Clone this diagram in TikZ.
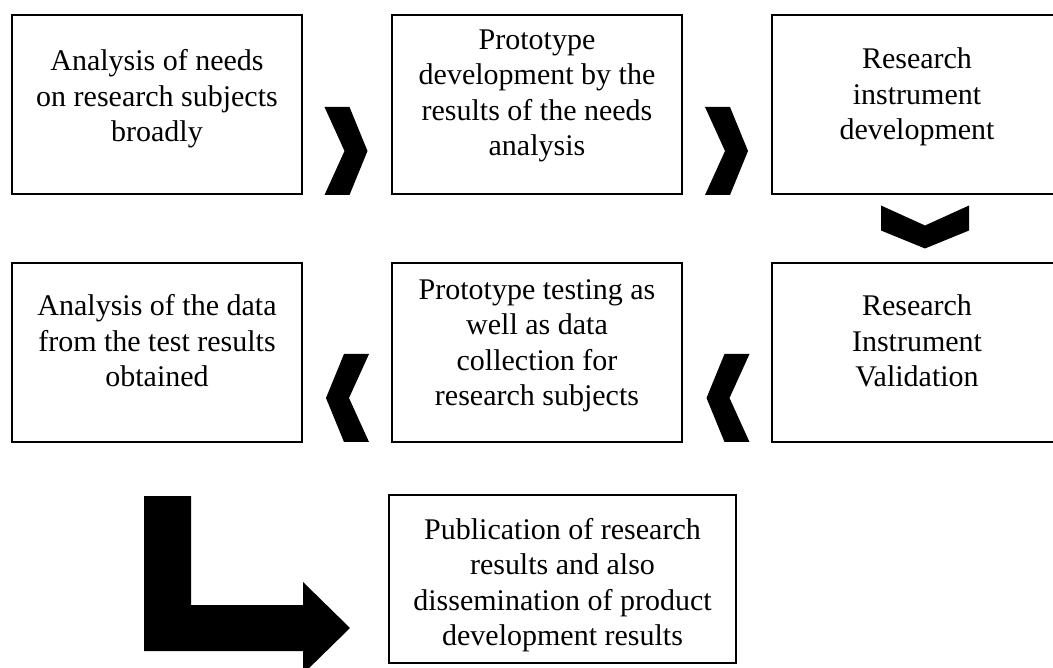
\documentclass[tikz,border=0pt]{standalone}
\usepackage{fontspec}
\setmainfont{Liberation Serif}
\begin{document}
\begin{tikzpicture}[x=1pt,y=-1pt,
box/.style={rectangle,draw=black,line width=2pt,minimum width=290pt,minimum height=179pt},
wide/.style={box,minimum width=347pt,minimum height=168pt},
txt/.style={align=center,inner sep=0pt,font=\fontsize{30}{35.5}\selectfont},
chevron/.pic={\fill[black] (-22,-44) -- (3,-44) -- (21,0) -- (3,44) -- (-22,44) -- (-2,0) -- cycle;}]
\useasboundingbox (0,0) rectangle (1053,668);

% Row 1
\node[box] (needs) at (157,105) {};
\node[txt] at (157,99) {Analysis of needs\\on research subjects\\broadly};
\node[box] (proto) at (537,105) {};
\node[txt] at (537,96) {Prototype\\development by the\\results of the needs\\analysis};
\node[box] (instr) at (917,105) {};
\node[txt] at (917,97) {Research\\instrument\\development};

% Row 2
\node[box] (data) at (157,352.5) {};
\node[txt] at (157,341) {Analysis of the data\\from the test results\\obtained};
\node[box] (test) at (537,352.5) {};
\node[txt] at (537,346) {Prototype testing as\\well as data\\collection for\\research subjects};
\node[box] (valid) at (917,352.5) {};
\node[txt] at (917,341) {Research\\Instrument\\Validation};

% Publication
\node[wide] (publ) at (562.5,579) {};
\node[txt] at (562.5,585) {Publication of research\\results and also\\dissemination of product\\development results};

% Chevrons
\pic at (346.5,151) {chevron};
\pic at (727,151) {chevron};
\pic[rotate=-90] at (925,227.5) {chevron};
\pic[rotate=180] at (347,398) {chevron};
\pic[rotate=180] at (727.5,398) {chevron};

% Bent arrow
\fill[black] (144,496) -- (191,496) -- (191,605) -- (303,605) -- (303,582) -- (350,628)
  -- (303,674) -- (303,651) -- (144,651) -- cycle;

\end{tikzpicture}
\end{document}
